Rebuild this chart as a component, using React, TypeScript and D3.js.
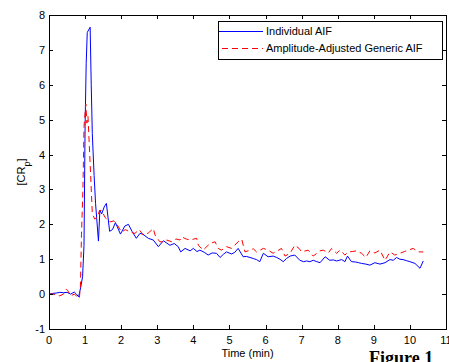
import React from "react";
import * as d3 from "d3";

// Individual AIF (blue solid)
const blueTime = [
  0.0, 0.1, 0.2, 0.3, 0.4, 0.5, 0.6, 0.7, 0.76, 0.82, 0.88, 0.93, 0.97, 1.0, 1.03, 1.06, 1.14, 1.17,
  1.2, 1.25, 1.29, 1.32, 1.37, 1.41, 1.46, 1.53, 1.59, 1.68, 1.76, 1.84, 1.98, 2.1, 2.2, 2.3, 2.42,
  2.52, 2.6, 2.75, 2.89, 3.03, 3.17, 3.35, 3.47, 3.58, 3.65, 3.77, 3.91, 4.0, 4.1, 4.18, 4.3, 4.41,
  4.52, 4.64, 4.74, 4.84, 4.92, 5.06, 5.15, 5.24, 5.38, 5.47, 5.57, 5.66, 5.75, 5.84, 5.94, 6.07,
  6.21, 6.31, 6.4, 6.49, 6.58, 6.68, 6.81, 6.95, 7.05, 7.14, 7.23, 7.32, 7.42, 7.51, 7.65, 7.78,
  7.88, 7.97, 8.11, 8.2, 8.27, 8.38, 8.5, 8.58, 8.66, 8.78, 8.89, 9.03, 9.17, 9.31, 9.45, 9.54,
  9.63, 9.72, 9.81, 9.9, 10.0, 10.14, 10.28, 10.37,
];
const blueValue = [
  0.0, 0.02, 0.03, 0.05, 0.04, 0.05, 0.0, 0.06, 0.0, -0.08, 0.2, 0.5, 1.4, 4.8, 6.6, 7.5, 7.65, 6.0,
  4.6, 3.4, 2.6, 2.2, 1.52, 2.4, 2.3, 2.5, 2.6, 1.8, 1.85, 2.05, 1.72, 1.95, 2.0, 1.8, 1.6,
  1.74, 1.72, 1.6, 1.55, 1.36, 1.53, 1.4, 1.45, 1.36, 1.21, 1.31, 1.24, 1.31, 1.22, 1.26, 1.2, 1.12,
  1.18, 1.17, 1.05, 1.15, 1.21, 1.15, 1.2, 1.31, 1.07, 1.08, 1.05, 1.02, 0.99, 0.93, 1.17, 1.07,
  1.09, 1.05, 1.0, 0.93, 1.02, 1.09, 1.12, 0.97, 0.93, 0.95, 0.93, 0.97, 0.93, 0.9, 1.07, 0.97,
  0.98, 0.95, 0.99, 0.93, 1.09, 0.93, 0.92, 0.9, 0.88, 0.86, 0.83, 0.9, 0.86, 0.9, 0.99, 0.97,
  1.05, 1.0, 0.99, 0.96, 0.93, 0.88, 0.74, 0.95,
];

// Amplitude-adjusted generic AIF (red dashed)
const redTime = [
  0.0, 0.1, 0.2, 0.3, 0.4, 0.48, 0.52, 0.6, 0.7, 0.76, 0.84, 0.87, 0.9, 0.94, 0.97, 1.02, 1.05, 1.08,
  1.15, 1.2, 1.27, 1.34, 1.4, 1.46, 1.55, 1.69, 1.8, 1.87, 2.01, 2.12, 2.24, 2.38, 2.5, 2.61, 2.75,
  2.89, 2.94, 3.07, 3.17, 3.26, 3.4, 3.52, 3.63, 3.68, 3.8, 3.91, 4.09, 4.14, 4.27, 4.46, 4.6, 4.69,
  4.78, 4.92, 5.06, 5.24, 5.34, 5.43, 5.57, 5.66, 5.75, 5.94, 6.07, 6.21, 6.3, 6.44, 6.54, 6.68,
  6.81, 6.93, 7.0, 7.18, 7.32, 7.51, 7.6, 7.74, 7.83, 7.97, 8.06, 8.2, 8.29, 8.4, 8.52, 8.66, 8.78,
  8.89, 9.03, 9.17, 9.31, 9.45, 9.58, 9.72, 9.85, 9.95, 10.09, 10.23, 10.37,
];
const redValue = [
  0.0, 0.0, -0.02, -0.05, 0.0, 0.14, 0.1, -0.05, 0.0, -0.05, -0.12, 0.2, 1.7, 3.0, 4.8, 5.45, 4.9, 5.1,
  3.5, 2.3, 2.15, 2.2, 2.4, 2.4, 2.2, 2.07, 2.1, 2.02, 1.78, 1.85, 1.78, 1.74, 1.85, 1.69, 1.75,
  1.88, 1.69, 1.5, 1.5, 1.55, 1.5, 1.58, 1.55, 1.64, 1.58, 1.55, 1.6, 1.4, 1.26, 1.45, 1.5, 1.31,
  1.26, 1.36, 1.31, 1.5, 1.57, 1.21, 1.26, 1.3, 1.21, 1.31, 1.26, 1.17, 1.22, 1.31, 1.09, 1.17,
  1.4, 1.31, 1.21, 1.26, 1.09, 1.24, 1.26, 1.18, 1.31, 1.17, 1.26, 1.12, 1.21, 1.22, 1.24, 1.17, 1.05,
  1.24, 1.18, 1.26, 0.97, 1.21, 1.12, 1.17, 1.22, 1.26, 1.31, 1.21, 1.21,
];

const xTicks = [0, 1, 2, 3, 4, 5, 6, 7, 8, 9, 10, 11];
const yTicks = [-1, 0, 1, 2, 3, 4, 5, 6, 7, 8];
const legendLabels = ["Individual AIF", "Amplitude-Adjusted Generic AIF"];

const W = 449;
const H = 362;
const plot = { left: 49, right: 446, top: 15, bottom: 329 };
const font = "'Liberation Sans', Arial, sans-serif";

export default function App() {
  const x = d3.scaleLinear().domain([0, 11]).range([plot.left, plot.right]);
  const y = d3.scaleLinear().domain([-1, 8]).range([plot.bottom, plot.top]);

  const line = d3
    .line<[number, number]>()
    .x((d) => x(d[0]))
    .y((d) => y(d[1]));

  const blue = blueTime.map((t, i) => [t, blueValue[i]] as [number, number]);
  const red = redTime.map((t, i) => [t, redValue[i]] as [number, number]);
  const tickLen = 4;

  return (
    <div style={{ position: "fixed", left: 0, top: 0, width: W, height: H, background: "#fff" }}>
      <svg width={W} height={H} style={{ display: "block" }}>
        <rect x={0} y={0} width={W} height={H} fill="#fff" />

        <path d={line(blue) ?? ""} fill="none" stroke="#0000ff" strokeWidth={1} />
        <path
          d={line(red) ?? ""}
          fill="none"
          stroke="#ff0000"
          strokeWidth={1}
          strokeDasharray="6,4"
        />

        {/* axes box */}
        <rect
          x={plot.left + 0.5}
          y={plot.top + 0.5}
          width={plot.right - plot.left}
          height={plot.bottom - plot.top}
          fill="none"
          stroke="#000"
          strokeWidth={1}
        />

        {xTicks.map((t) => {
          const px = Math.round(x(t)) + 0.5;
          return (
            <g key={"x" + t}>
              <line x1={px} x2={px} y1={plot.bottom} y2={plot.bottom - tickLen} stroke="#000" />
              <line x1={px} x2={px} y1={plot.top} y2={plot.top + tickLen} stroke="#000" />
              <text
                x={x(t)}
                y={plot.bottom + 15}
                textAnchor="middle"
                fontFamily={font}
                fontSize={11}
                fill="#000"
              >
                {t}
              </text>
            </g>
          );
        })}

        {yTicks.map((v) => {
          const py = Math.round(y(v)) + 0.5;
          return (
            <g key={"y" + v}>
              <line x1={plot.left} x2={plot.left + tickLen} y1={py} y2={py} stroke="#000" />
              <line x1={plot.right} x2={plot.right - tickLen} y1={py} y2={py} stroke="#000" />
              <text
                x={plot.left - 4}
                y={y(v) + 4}
                textAnchor="end"
                fontFamily={font}
                fontSize={11}
                fill="#000"
              >
                {v}
              </text>
            </g>
          );
        })}

        {/* axis labels */}
        <text
          x={(plot.left + plot.right) / 2}
          y={357}
          textAnchor="middle"
          fontFamily={font}
          fontSize={11}
          fill="#000"
        >
          Time (min)
        </text>
        <text
          transform={`translate(25, ${(plot.top + plot.bottom) / 2}) rotate(-90)`}
          textAnchor="middle"
          fontFamily={font}
          fontSize={11}
          fill="#000"
        >
          [CR
          <tspan baselineShift="sub" fontSize={9}>
            p
          </tspan>
          ]
        </text>

        {/* legend */}
        <rect x={218.5} y={21.5} width={224} height={38} fill="#fff" stroke="#000" strokeWidth={1} />
        {legendLabels.map((label, i) => {
          const ly = 31 + i * 17;
          return (
            <g key={label}>
              <line
                x1={i === 0 ? 219 : 222}
                x2={263}
                y1={ly + 0.5}
                y2={ly + 0.5}
                stroke={i === 0 ? "#0000ff" : "#ff0000"}
                strokeDasharray={i === 0 ? undefined : "6,4"}
              />
              <text x={266} y={ly + 4} fontFamily={font} fontSize={11} fill="#000">
                {label}
              </text>
            </g>
          );
        })}

        <text
          x={369}
          y={364}
          fontFamily="'Liberation Serif', 'Times New Roman', serif"
          fontWeight="bold"
          fontSize={18}
          fill="#000"
        >
          Figure 1
        </text>
      </svg>
    </div>
  );
}
